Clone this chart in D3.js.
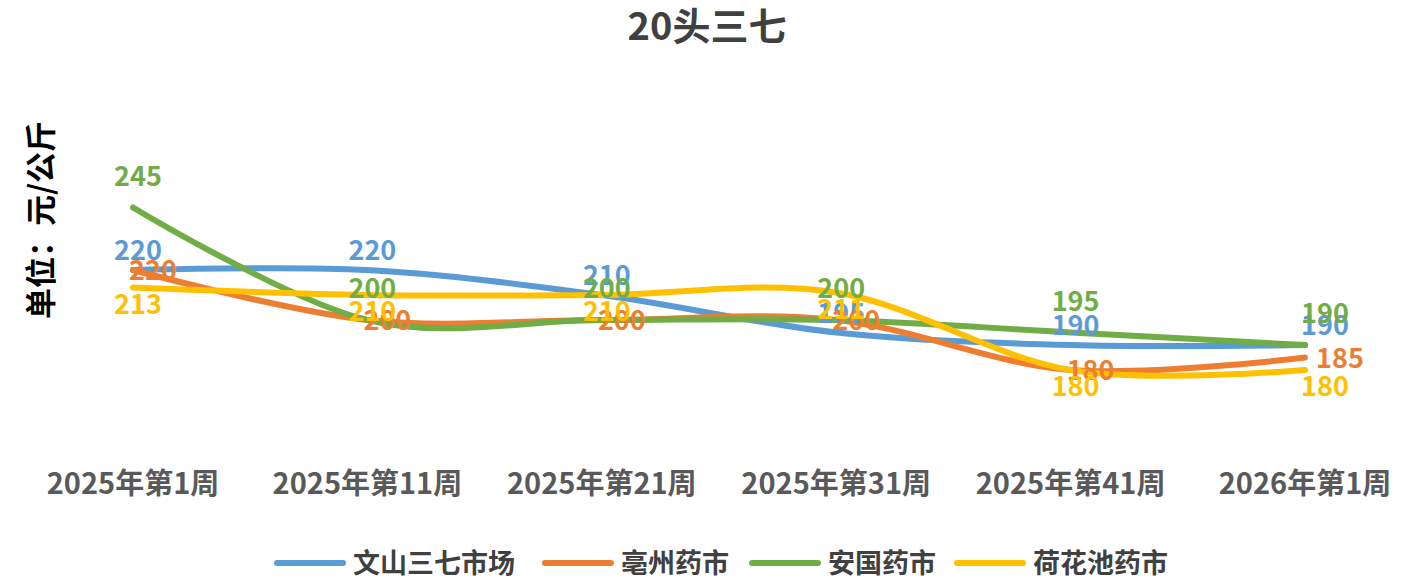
<!DOCTYPE html>
<html><head><meta charset="utf-8">
<script src="https://cdn.jsdelivr.net/npm/d3@7"></script>
<style>body{margin:0;background:#fff;font-family:"Noto Sans CJK SC","Noto Sans",sans-serif;}</style>
</head><body><svg id="c" width="1420" height="580"></svg>
<script>
// categories and series values
var weeks = ["2025年第1周","2025年第11周","2025年第21周","2025年第31周","2025年第41周","2026年第1周"];
var wenshan = [220, 220, 210, 195, 190, 190];
var bozhou = [220, 200, 200, 200, 180, 185];
var anguo = [245, 200, 200, 200, 195, 190];
var hehuachi = [213, 210, 210, 211, 180, 180];

var series = [
  {name: "文山三七市场", values: wenshan, color: "#5B9BD5", dx: 0, dy: -10},
  {name: "亳州药市", values: bozhou, color: "#ED7D31", dx: 15, dy: 10},
  {name: "安国药市", values: anguo, color: "#70AD47", dx: 0, dy: -22},
  {name: "荷花池药市", values: hehuachi, color: "#FFC000", dx: 0, dy: 26}
];

var svg = d3.select("#c");
var x = d3.scalePoint().domain(weeks).range([133, 1305]);
var y = d3.scaleLinear().domain([160, 260]).range([420, 170]);

svg.append("text").attr("x", 707).attr("y", 40).attr("text-anchor", "middle")
  .attr("font-size", 38).attr("font-weight", "bold").attr("fill", "#404040").text("20头三七");

svg.append("text").attr("transform", "translate(52,220) rotate(-90)").attr("text-anchor", "middle")
  .attr("font-size", 31).attr("font-weight", "bold").attr("fill", "#000").text("单位：元/公斤");

svg.selectAll(".xl").data(weeks).enter().append("text")
  .attr("x", d => x(d)).attr("y", 494).attr("text-anchor", "middle")
  .attr("font-size", 29).attr("font-weight", "bold").attr("fill", "#595959").text(d => d);

var line = d3.line().x((d, i) => x(weeks[i])).y(d => y(d)).curve(d3.curveCatmullRom.alpha(0));

series.forEach(s => {
  svg.append("path").attr("d", line(s.values)).attr("fill", "none")
    .attr("stroke", s.color).attr("stroke-width", 6).attr("stroke-linecap", "round");
});

// data labels
series.forEach(s => {
  svg.selectAll(null).data(s.values).enter().append("text")
    .attr("x", (d, i) => x(weeks[i]) + s.dx + (i == 5 ? 20 : 5))
    .attr("y", d => y(d) + s.dy)
    .attr("font-size", 27).attr("font-weight", "bold").attr("fill", s.color)
    .attr("text-anchor", "middle").text(d => d);
});

// legend
var legX = [277, 545, 752, 957];
series.forEach((s, i) => {
  var g = svg.append("g").attr("transform", "translate(" + legX[i] + ",563)");
  g.append("line").attr("x1", 0).attr("x2", 66).attr("stroke", s.color)
    .attr("stroke-width", 6).attr("stroke-linecap", "round");
  g.append("text").attr("x", 76).attr("y", 10).attr("font-size", 27).attr("font-weight", "bold")
    .attr("fill", "#404040").text(s.name);
});
</script></body></html>
